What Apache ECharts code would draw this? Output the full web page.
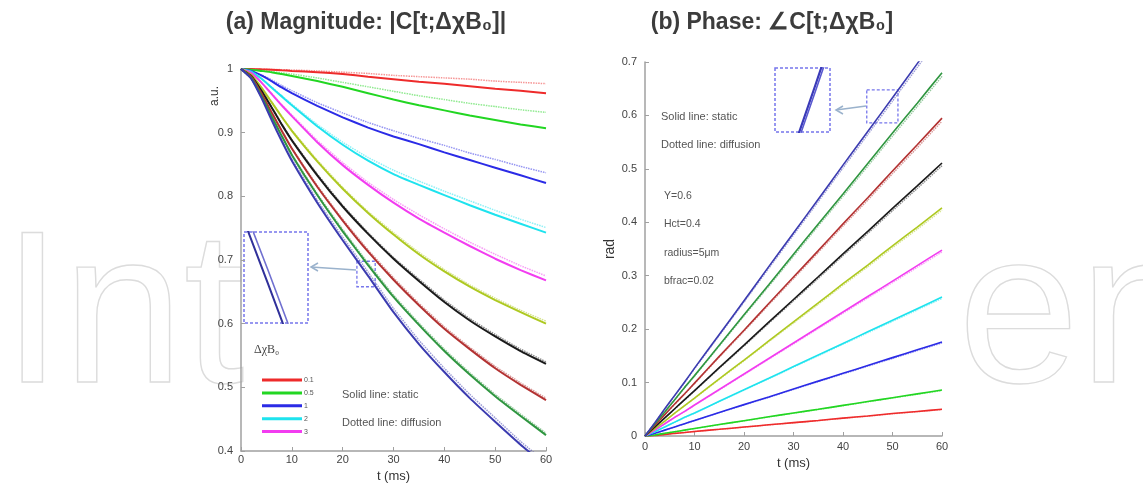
<!DOCTYPE html>
<html><head><meta charset="utf-8">
<script src="https://cdn.jsdelivr.net/npm/echarts@6/dist/echarts.min.js"></script>
<style>html,body{margin:0;padding:0;background:#fff}#c{width:1143px;height:483px}</style>
</head><body><div id="c"></div><script>
// time samples (ms)
const t = [0,2,4,6,8,10,15,20,25,30,35,40,45,50,55,60];
const legendNames = ['0.1','0.5','1','2','3','c6','c7','c8','c9','c10'];
const colors = ['#ee2b2b','#22d622','#2b2be6','#1ee3ee','#f23cf0','#aec921','#1a1a1a','#b33232','#2f9640','#3b3bb0'];

// (a) magnitude, static (solid)
const magStaticRed     = [1,1,0.9995,0.999,0.998,0.997,0.995,0.992,0.988,0.984,0.98,0.977,0.973,0.969,0.966,0.962];
const magStaticGreen   = [1,0.999,0.997,0.995,0.992,0.989,0.981,0.972,0.962,0.952,0.943,0.935,0.927,0.92,0.913,0.907];
const magStaticBlue    = [1,0.997,0.99,0.981,0.971,0.962,0.942,0.924,0.908,0.894,0.882,0.869,0.857,0.845,0.833,0.821];
const magStaticCyan    = [1,0.996,0.985,0.971,0.957,0.943,0.91,0.881,0.856,0.835,0.818,0.802,0.786,0.771,0.757,0.743];
const magStaticMagenta = [1,0.994,0.979,0.961,0.943,0.926,0.885,0.849,0.818,0.79,0.765,0.743,0.722,0.702,0.684,0.668];
const magStaticYG      = [1,0.991,0.971,0.948,0.925,0.903,0.855,0.812,0.774,0.74,0.709,0.682,0.658,0.637,0.618,0.6];
const magStaticBlack   = [1,0.989,0.966,0.94,0.913,0.888,0.833,0.784,0.741,0.702,0.667,0.634,0.605,0.58,0.557,0.537];
const magStaticBrown   = [1,0.988,0.962,0.932,0.903,0.875,0.815,0.762,0.713,0.669,0.629,0.592,0.56,0.53,0.504,0.48];
const magStaticDkGreen = [1,0.986,0.958,0.926,0.895,0.865,0.802,0.745,0.692,0.642,0.598,0.557,0.52,0.486,0.455,0.425];
const magStaticDkBlue  = [1,0.985,0.955,0.92,0.887,0.856,0.79,0.731,0.675,0.618,0.568,0.524,0.483,0.446,0.41,0.377];
// (a) magnitude, diffusion (dotted)
const magDiffRed     = [1,1,1,0.9995,0.999,0.9985,0.997,0.995,0.993,0.99,0.988,0.986,0.984,0.981,0.979,0.977];
const magDiffGreen   = [1,0.999,0.998,0.996,0.994,0.992,0.986,0.979,0.972,0.965,0.958,0.952,0.946,0.941,0.936,0.932];
const magDiffBlue    = [1,0.997,0.991,0.983,0.974,0.966,0.947,0.931,0.916,0.903,0.891,0.88,0.868,0.858,0.847,0.837];
const magDiffCyan    = [1,0.996,0.985,0.972,0.958,0.945,0.913,0.885,0.861,0.841,0.824,0.808,0.793,0.778,0.764,0.751];
const magDiffMagenta = [1,0.994,0.979,0.962,0.944,0.928,0.888,0.853,0.822,0.795,0.771,0.749,0.728,0.709,0.691,0.675];
const magDiffYG      = [1,0.991,0.971,0.949,0.926,0.904,0.857,0.814,0.776,0.743,0.712,0.685,0.661,0.64,0.621,0.604];
const magDiffBlack   = [1,0.989,0.966,0.941,0.914,0.889,0.835,0.786,0.743,0.704,0.67,0.637,0.608,0.583,0.56,0.54];
const magDiffBrown   = [1,0.988,0.962,0.933,0.904,0.876,0.817,0.764,0.716,0.672,0.632,0.595,0.563,0.533,0.507,0.483];
const magDiffDkGreen = [1,0.986,0.958,0.927,0.896,0.866,0.804,0.748,0.695,0.645,0.601,0.56,0.523,0.489,0.458,0.428];
const magDiffDkBlue  = [1,0.985,0.956,0.922,0.889,0.859,0.794,0.736,0.681,0.624,0.574,0.53,0.489,0.452,0.415,0.382];

// (b) phase, static (solid)
const phStaticRed     = [0,0.001,0.003,0.005,0.0065,0.0085,0.0125,0.0167,0.021,0.025,0.029,0.0335,0.0375,0.042,0.046,0.05];
const phStaticGreen   = [0,0.002,0.005,0.008,0.011,0.014,0.0215,0.0287,0.036,0.043,0.05,0.0573,0.0645,0.0717,0.0788,0.086];
const phStaticBlue    = [0,0.005,0.011,0.017,0.023,0.029,0.044,0.0587,0.073,0.088,0.1027,0.1173,0.132,0.1467,0.1613,0.176];
const phStaticCyan    = [0,0.008,0.017,0.026,0.035,0.043,0.065,0.0867,0.108,0.13,0.1517,0.1733,0.195,0.2167,0.2383,0.26];
const phStaticMagenta = [0,0.011,0.023,0.035,0.046,0.058,0.087,0.116,0.145,0.174,0.203,0.232,0.261,0.29,0.319,0.348];
const phStaticYG      = [0,0.014,0.028,0.043,0.057,0.071,0.107,0.142,0.178,0.2135,0.249,0.285,0.32,0.356,0.391,0.427];
const phStaticBlack   = [0,0.017,0.034,0.051,0.068,0.085,0.128,0.17,0.213,0.2555,0.298,0.341,0.383,0.426,0.468,0.511];
const phStaticBrown   = [0,0.02,0.04,0.06,0.079,0.099,0.149,0.198,0.248,0.2975,0.347,0.397,0.446,0.496,0.545,0.595];
const phStaticDkGreen = [0,0.023,0.045,0.068,0.091,0.113,0.17,0.227,0.283,0.34,0.397,0.453,0.51,0.567,0.623,0.68];
const phStaticDkBlue  = [0,0.025,0.051,0.076,0.101,0.127,0.19,0.253,0.317,0.38,0.443,0.507,0.57,0.633,0.697,0.76];
// (b) phase, diffusion (dotted)
const phDiffRed     = [0,0.001,0.003,0.005,0.0064,0.0084,0.0124,0.0165,0.0208,0.0247,0.0287,0.0331,0.0371,0.0416,0.0455,0.0495];
const phDiffGreen   = [0,0.002,0.005,0.0079,0.0109,0.0139,0.0213,0.0284,0.0356,0.0426,0.0495,0.0567,0.0639,0.071,0.078,0.0851];
const phDiffBlue    = [0,0.005,0.0109,0.0168,0.0228,0.0287,0.0436,0.0581,0.0723,0.0871,0.1017,0.1161,0.1307,0.1452,0.1597,0.1742];
const phDiffCyan    = [0,0.0079,0.0168,0.0257,0.0347,0.0426,0.0644,0.0858,0.1069,0.1287,0.1502,0.1716,0.1931,0.2145,0.2359,0.2574];
const phDiffMagenta = [0,0.0109,0.0228,0.0347,0.0455,0.0574,0.0861,0.1148,0.1436,0.1723,0.201,0.2297,0.2584,0.2871,0.3158,0.3445];
const phDiffYG      = [0,0.0139,0.0277,0.0426,0.0564,0.0703,0.1059,0.1406,0.1762,0.2114,0.2465,0.2822,0.3168,0.3524,0.3871,0.4227];
const phDiffBlack   = [0,0.0168,0.0337,0.0505,0.0673,0.0842,0.1267,0.1683,0.2109,0.2529,0.295,0.3376,0.3792,0.4217,0.4633,0.5059];
const phDiffBrown   = [0,0.0198,0.0396,0.0594,0.0782,0.098,0.1475,0.196,0.2455,0.2945,0.3435,0.393,0.4415,0.491,0.5396,0.589];
const phDiffDkGreen = [0,0.0228,0.0446,0.0673,0.0901,0.1119,0.1683,0.2247,0.2802,0.3366,0.393,0.4485,0.5049,0.5613,0.6168,0.6732];
const phDiffDkBlue  = [0,0.0248,0.0505,0.0752,0.1,0.1257,0.1881,0.2505,0.3138,0.3762,0.4386,0.5019,0.5643,0.6267,0.69,0.7524];

const magStatic = [magStaticRed,magStaticGreen,magStaticBlue,magStaticCyan,magStaticMagenta,magStaticYG,magStaticBlack,magStaticBrown,magStaticDkGreen,magStaticDkBlue];
const magDiff = [magDiffRed,magDiffGreen,magDiffBlue,magDiffCyan,magDiffMagenta,magDiffYG,magDiffBlack,magDiffBrown,magDiffDkGreen,magDiffDkBlue];
const phStatic = [phStaticRed,phStaticGreen,phStaticBlue,phStaticCyan,phStaticMagenta,phStaticYG,phStaticBlack,phStaticBrown,phStaticDkGreen,phStaticDkBlue];
const phDiff = [phDiffRed,phDiffGreen,phDiffBlue,phDiffCyan,phDiffMagenta,phDiffYG,phDiffBlack,phDiffBrown,phDiffDkGreen,phDiffDkBlue];

const FONT = '"Liberation Sans", Arial, sans-serif';
const pairs = arr => t.map((x, i) => [x, arr[i]]);

function line(name, arr, axis, color, width, dotted, extra) {
  return Object.assign({
    type: 'line', name, data: pairs(arr), xAxisIndex: axis, yAxisIndex: axis,
    showSymbol: false, symbol: 'none', smooth: 0.12, animation: false, silent: true,
    lineStyle: dotted ? { color, width, type: [1.5, 1], opacity: 0.5 } : { color, width },
    itemStyle: { color }
  }, extra || {});
}

const boxStyle = { color: 'rgba(0,0,0,0)', borderColor: '#7676ec', borderWidth: 1.3, borderType: [3, 2] };
const series = [];
for (let i = 0; i < 10; i++) {
  series.push(line(legendNames[i] + ' diffusion', magDiff[i], 0, colors[i], 1.5, true));
  const extra = i === 9 ? { markArea: { silent: true, itemStyle: boxStyle, data: [[{ coord: [22.8, 0.698] }, { coord: [26.4, 0.658] }]] } } : null;
  series.push(line(legendNames[i], magStatic[i], 0, colors[i], 2, false, extra));
}
for (let i = 0; i < 10; i++) {
  series.push(line('phase ' + legendNames[i] + ' diffusion', phDiff[i], 1, colors[i], 1.4, true));
  const extra = i === 9 ? { markArea: { silent: true, itemStyle: boxStyle, data: [[{ coord: [44.8, 0.648] }, { coord: [51.1, 0.586] }]] } } : null;
  series.push(line('phase ' + legendNames[i], phStatic[i], 1, colors[i], 1.6, false, extra));
}
// insets (zoomed views of the dark-blue pair)
series.push(line('inset a static', magStaticDkBlue, 2, '#30309a', 2, false, { smooth: false }));
series.push(line('inset a diffusion', magDiffDkBlue, 2, '#7070d0', 1.6, false, { smooth: false }));
series.push(line('inset b static', phStaticDkBlue, 3, '#3a3ab8', 2.2, false, { smooth: false }));
series.push(line('inset b diffusion', phDiffDkBlue, 3, '#5a5ad0', 1.6, false, { smooth: false }));

const axisCol = '#a0a0a0';
const labelStyle = { fontSize: 11, color: '#444', fontFamily: FONT };
function xAx(gi, gap, margin) {
  return { type: 'value', gridIndex: gi, min: 0, max: 60, interval: 10,
    axisLine: { show: true, lineStyle: { color: axisCol, width: 1.5 } },
    axisTick: { show: true, inside: true, length: 4, lineStyle: { color: axisCol } },
    axisLabel: Object.assign({ margin }, labelStyle), splitLine: { show: false },
    name: 't (ms)', nameLocation: 'middle', nameGap: gap,
    nameTextStyle: { fontSize: 13, color: '#333', fontFamily: FONT } };
}
function yAx(gi, min, max, name) {
  return { type: 'value', gridIndex: gi, min, max, interval: 0.1,
    axisLine: { show: true, lineStyle: { color: axisCol, width: 1.5 } },
    axisTick: { show: true, inside: true, length: 4, lineStyle: { color: axisCol } },
    axisLabel: Object.assign({ margin: 8 }, labelStyle), splitLine: { show: false },
    name, nameLocation: 'middle', nameGap: 28,
    nameTextStyle: { fontSize: 14, color: '#333', fontFamily: FONT } };
}
const hidden = (gi, min, max) => ({ type: 'value', gridIndex: gi, min, max, show: false, splitLine: { show: false } });

const txt = (x, y, text, size, extra) => ({ type: 'text', x, y, silent: true,
  style: Object.assign({ text, fontSize: size || 10, fill: '#555', fontFamily: FONT, verticalAlign: 'middle' }, extra || {}) });

const wm = { fontSize: 218, fontFamily: FONT, fill: 'rgba(0,0,0,0)', stroke: '#dcdcdc', lineWidth: 1.4, verticalAlign: 'middle' };
const graphic = [
  // watermark
  { type: 'text', x: 2, y: 322, z: -10, silent: true, style: Object.assign({ text: 'Int' }, wm) },
  { type: 'text', x: 958, y: 322, z: -10, silent: true, style: Object.assign({ text: 'en' }, wm) },
  // titles
  txt(366, 23, '(a) Magnitude: |C[t;\u0394\u03c7B\u2080]|', 23, { fill: '#3c3c3c', align: 'center', fontWeight: 'bold' }),
  txt(772, 23, '(b) Phase: \u2220C[t;\u0394\u03c7B\u2080]', 23, { fill: '#3c3c3c', align: 'center', fontWeight: 'bold' }),
  // y label of (a)
  { type: 'text', x: 215, y: 96, rotation: Math.PI / 2, silent: true, style: { text: 'a.u.', fontSize: 12, fill: '#333', fontFamily: FONT, align: 'center', verticalAlign: 'middle' } },
  // legend title
  txt(254, 350, '\u0394\u03c7B\u2080', 12, { fontFamily: '"Liberation Serif", serif', fill: '#444' }),
  // annotations (a)
  txt(342, 395, 'Solid line: static', 11),
  txt(342, 423, 'Dotted line: diffusion', 11),
  // annotations (b)
  txt(661, 117, 'Solid line: static', 11),
  txt(661, 145, 'Dotted line: diffusion', 11),
  txt(664, 196, 'Y=0.6', 10.5),
  txt(664, 224, 'Hct=0.4', 10.5),
  txt(664, 253, 'radius=5\u03bcm', 10.5),
  txt(664, 281, 'bfrac=0.02', 10.5),
  // inset frames
  { type: 'rect', silent: true, shape: { x: 244, y: 232, width: 64, height: 91 }, style: { fill: 'none', stroke: '#7676ec', lineWidth: 1.5, lineDash: [3, 2] } },
  { type: 'rect', silent: true, shape: { x: 775, y: 68, width: 55, height: 64 }, style: { fill: 'none', stroke: '#7676ec', lineWidth: 1.5, lineDash: [3, 2] } },
  // arrows
  { type: 'line', silent: true, shape: { x1: 356, y1: 270, x2: 311, y2: 267 }, style: { stroke: '#9ab2cc', lineWidth: 1.5 } },
  { type: 'polyline', silent: true, shape: { points: [[318, 263], [311, 267], [318, 271]] }, style: { stroke: '#9ab2cc', lineWidth: 1.5, fill: 'none' } },
  { type: 'line', silent: true, shape: { x1: 866, y1: 106, x2: 836, y2: 110 }, style: { stroke: '#9ab2cc', lineWidth: 1.5 } },
  { type: 'polyline', silent: true, shape: { points: [[843, 106], [836, 110], [843, 114]] }, style: { stroke: '#9ab2cc', lineWidth: 1.5, fill: 'none' } }
];

const chart = echarts.init(document.getElementById('c'), null, { renderer: 'canvas' });
chart.setOption({
  backgroundColor: '#fff',
  animation: false,
  grid: [
    { left: 241, top: 69, width: 305, height: 382, outerBoundsMode: 'none', containLabel: false },
    { left: 645, top: 62, width: 297, height: 374, outerBoundsMode: 'none', containLabel: false },
    { left: 244, top: 232, width: 64, height: 91, outerBoundsMode: 'none' },
    { left: 775, top: 68, width: 55, height: 64, outerBoundsMode: 'none' }
  ],
  xAxis: [xAx(0, 19, 3), xAx(1, 20, 5), hidden(2, 22.5, 29.1), hidden(3, 40.5, 53.4)],
  yAxis: [yAx(0, 0.4, 1, ''), yAx(1, 0, 0.7, 'rad'), hidden(2, 0.658, 0.698), hidden(3, 0.585, 0.65)],
  legend: {
    data: legendNames.slice(0, 5), orient: 'vertical', left: 257, top: 371,
    icon: 'rect', itemWidth: 40, itemHeight: 3, itemGap: 4.9, selectedMode: false,
    textStyle: { fontSize: 7, lineHeight: 8, color: '#555', fontFamily: FONT, padding: [0, 0, 0, -3] }
  },
  series,
  graphic
});
</script></body></html>
